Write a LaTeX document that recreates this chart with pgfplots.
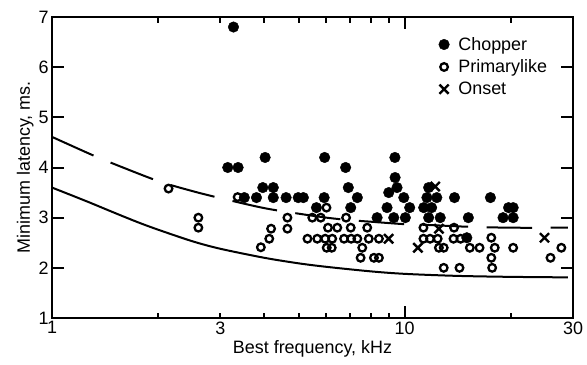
\documentclass[border=0pt]{standalone}
\usepackage{pgfplots}
\pgfplotsset{compat=1.18}
\usepackage{fontspec}
\setmainfont{Liberation Sans}
\begin{document}
\begin{tikzpicture}
\begin{axis}[
  xmode=log, xmin=1, xmax=30, ymin=1, ymax=7,
  width=521bp, height=301bp, scale only axis,
  axis line style={line width=2.2bp},
  xtick={1,10,30}, xticklabels={1,10,30},
  extra x ticks={3}, extra x tick labels={3},
  extra x tick style={major tick length=5.5bp},
  minor xtick={2,4,5,6,7,8,9,20},
  ytick={1,2,3,4,5,6,7},
  tick align=inside,
  major tick length=12bp, minor tick length=5.5bp,
  tick style={line width=2bp, black},
  tick label style={font=\fontsize{18}{21}\selectfont},
  label style={font=\fontsize{18}{21}\selectfont},
  xlabel={Best frequency, kHz},
  ylabel={Minimum latency, ms.},
  xlabel style={yshift=1bp},
  ylabel style={yshift=-2bp},
  /pgf/number format/assume math mode=true,
  legend style={at={(0.742,0.94)}, anchor=north west, draw=none, fill=none,
    font=\fontsize{18}{21}\selectfont, inner sep=0pt, row sep=4bp, column sep=7bp},
  legend cell align=left,
  legend image code/.code={\draw[#1] plot coordinates {(4bp,0bp)};},
]
% curves
\addplot[forget plot, line width=2bp, smooth] coordinates {
(1,3.60) (1.25,3.33) (1.5,3.10) (1.75,2.91) (2,2.76) (2.5,2.53) (3,2.38)
(4,2.20) (5,2.09) (6,2.02) (8,1.93) (10,1.88) (14,1.84) (20,1.82) (29,1.81)};
\addplot[forget plot, line width=2bp, smooth, dash pattern=on 45.5bp off 18.5bp] coordinates {
(1,4.61) (1.3,4.25) (1.5,4.07) (2,3.73) (2.5,3.53) (3,3.39) (4,3.19) (5,3.08)
(6,3.0) (7,2.95) (8,2.92) (10,2.87) (12,2.85) (15,2.82) (20,2.8) (29,2.8)};
% Chopper
\addplot[only marks, mark=*, mark size=5.3bp, black] table {
x y
3.27 6.8
3.15 4.0
3.37 4.0
4.02 4.2
5.93 4.2
9.38 4.2
6.80 4.0
9.39 3.8
3.96 3.6
4.24 3.6
6.92 3.6
9.51 3.6
11.69 3.6
9.01 3.5
3.51 3.4
3.80 3.4
4.24 3.4
4.61 3.4
4.99 3.4
5.16 3.4
5.91 3.4
7.34 3.4
9.94 3.4
11.56 3.4
12.33 3.4
13.84 3.4
17.5 3.4
5.62 3.2
7.03 3.2
8.91 3.2
10.33 3.2
11.32 3.2
11.92 3.2
19.7 3.2
20.3 3.2
8.35 3.0
9.31 3.0
10.04 3.0
11.69 3.0
12.61 3.0
15.15 3.0
19.0 3.0
20.3 3.0
15.0 2.6
};
\addlegendentry{Chopper}
% Primarylike
\addplot[only marks, mark=o, mark size=3.8bp, line width=2.3bp, black] table {
x y
2.14 3.58
2.60 3.0
2.60 2.8
3.36 3.41
3.91 2.41
4.13 2.58
4.18 2.78
4.65 3.0
4.65 2.78
5.47 3.0
5.78 3.0
6.82 3.0
6.0 3.2
5.30 2.58
5.65 2.58
5.95 2.58
6.23 2.58
6.73 2.58
7.05 2.58
7.34 2.58
7.91 2.58
8.45 2.58
6.06 2.8
6.44 2.8
7.03 2.8
7.83 2.8
6.01 2.4
6.21 2.4
7.58 2.4
7.50 2.2
8.18 2.2
8.45 2.2
11.3 2.8
13.8 2.8
11.3 2.58
11.8 2.58
12.4 2.58
13.75 2.58
14.4 2.58
12.5 2.4
12.9 2.4
15.3 2.4
16.3 2.4
18.0 2.4
20.3 2.4
27.8 2.4
17.6 2.2
25.9 2.2
12.9 2.0
14.3 2.0
17.7 2.0
17.6 2.6
};
\addlegendentry{Primarylike}
% Onset
\addplot[only marks, mark=x, mark size=6.5bp, line width=2.4bp, black] table {
x y
9.0 2.58
10.9 2.4
12.2 3.62
12.5 2.78
24.9 2.6
};
\addlegendentry{Onset}
\end{axis}
\pgfresetboundingbox
\path[use as bounding box] ([xshift=-52bp,yshift=-47bp]current axis.south west) rectangle ([xshift=14bp,yshift=17bp]current axis.north east);
\end{tikzpicture}
\end{document}
